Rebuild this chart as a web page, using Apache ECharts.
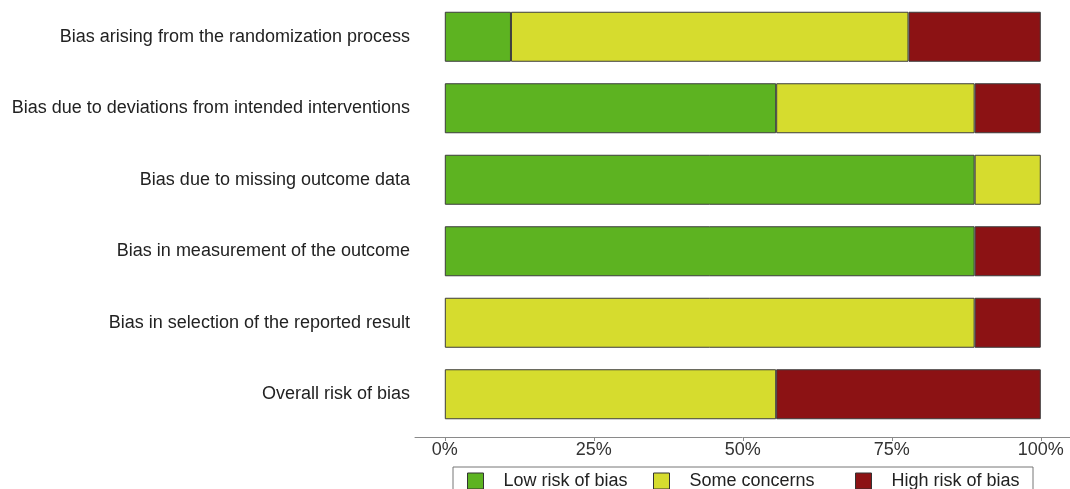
<!DOCTYPE html>
<html>
<head>
<meta charset="utf-8">
<script src="https://cdn.jsdelivr.net/npm/echarts@6/dist/echarts.min.js"></script>
<style>
  html, body { margin: 0; padding: 0; background: #fff; }
  #chart { width: 1070px; height: 489px; }
</style>
</head>
<body>
<div id="chart"></div>
<script>
const domains = [
  'Bias arising from the randomization process',
  'Bias due to deviations from intended interventions',
  'Bias due to missing outcome data',
  'Bias in measurement of the outcome',
  'Bias in selection of the reported result',
  'Overall risk of bias'
]
// percentages of studies per domain
const lowRisk = [11.1, 55.6, 88.9, 88.9, 0, 0]
const someConcerns = [66.7, 33.3, 11.1, 0, 88.9, 55.6]
const highRisk = [22.2, 11.1, 0, 11.1, 11.1, 44.4]
const tickValues = [0, 25, 50, 75, 100]

const seriesNames = ['Low risk of bias', 'Some concerns', 'High risk of bias']
const seriesColors = ['#5db321', '#d6dc2e', '#8c1214']
const seriesData = [lowRisk, someConcerns, highRisk]
const legendLefts = [467, 653, 855]

const chart = echarts.init(document.getElementById('chart'))
const font = 'Liberation Sans, Arial, sans-serif'

chart.setOption({
  animation: false,
  textStyle: { fontFamily: font },
  grid: { left: 415, top: 1, width: 655, height: 429 },
  xAxis: {
    type: 'value',
    min: -5,
    max: 104.9,
    offset: 7,
    splitLine: { show: false },
    axisLine: { show: true, lineStyle: { color: '#8a8a8a', width: 1 } },
    axisTick: { show: true, length: 4, customValues: tickValues, lineStyle: { color: '#8a8a8a' } },
    axisLabel: {
      customValues: tickValues,
      formatter: (v) => v + '%',
      color: '#333',
      fontSize: 18,
      margin: 4,
      fontFamily: font
    }
  },
  yAxis: {
    type: 'category',
    inverse: true,
    data: domains,
    axisLine: { show: false },
    axisTick: { show: false },
    axisLabel: { color: '#222', fontSize: 18, margin: 5, fontFamily: font }
  },
  legend: seriesNames.map((name, i) => ({
    data: [{ name, icon: 'rect' }],
    left: legendLefts[i],
    top: 472,
    padding: 0,
    itemWidth: 16,
    itemHeight: 16,
    selectedMode: false,
    itemStyle: { borderColor: '#333', borderWidth: 1 },
    textStyle: { fontSize: 18, color: '#222', fontFamily: font, padding: [0, 0, 0, 15] }
  })),
  graphic: [{
    type: 'rect',
    shape: { x: 453, y: 467, width: 580, height: 40 },
    style: { fill: 'none', stroke: '#777', lineWidth: 1 },
    silent: true
  }],
  series: seriesNames.map((name, i) => ({
    name,
    type: 'bar',
    stack: 'risk',
    barWidth: 50,
    itemStyle: { color: seriesColors[i], borderColor: '#3c3c3c', borderWidth: 1 },
    // empty categories are left out so no zero-width outline is drawn
    data: seriesData[i].map((v) => (v === 0 ? '-' : v))
  }))
})
</script>
</body>
</html>
